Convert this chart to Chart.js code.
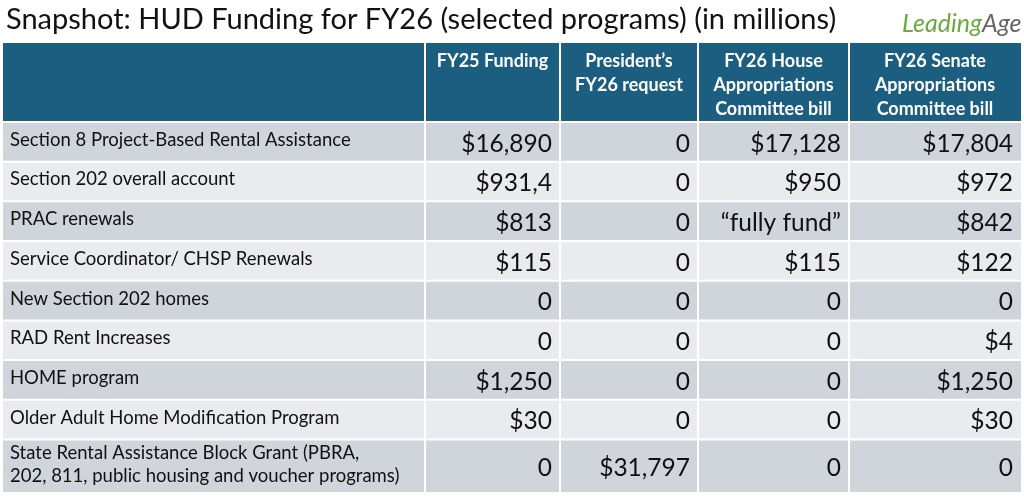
<!DOCTYPE html>
<html><head><meta charset="utf-8">
<script src="https://cdn.jsdelivr.net/npm/chart.js@4"></script>
<style>html,body{margin:0;background:#fff}#wrap{width:1024px;height:499px}</style>
</head><body><div id="wrap"><canvas id="myChart"></canvas></div>
<script>
const titleText = 'Snapshot: HUD Funding for FY26 (selected programs) (in millions)';
const headers = [
  [''],
  ['FY25 Funding'],
  ['President\u2019s', 'FY26 request'],
  ['FY26 House', 'Appropriations', 'Committee bill'],
  ['FY26 Senate', 'Appropriations', 'Committee bill'],
];
const programs = [
  ['Section 8 Project-Based Rental Assistance'],
  ['Section 202 overall account'],
  ['PRAC renewals'],
  ['Service Coordinator/ CHSP Renewals'],
  ['New Section 202 homes'],
  ['RAD Rent Increases'],
  ['HOME program'],
  ['Older Adult Home Modification Program'],
  ['State Rental Assistance Block Grant (PBRA,', '202, 811, public housing and voucher programs)'],
];
const fy25 = ['$16,890', '$931,4', '$813', '$115', '0', '0', '$1,250', '$30', '0'];
const president = ['0', '0', '0', '0', '0', '0', '0', '0', '$31,797'];
const house = ['$17,128', '$950', '\u201cfully fund\u201d', '$115', '0', '0', '0', '0', '0'];
const senate = ['$17,804', '$972', '$842', '$122', '0', '$4', '$1,250', '$30', '0'];

const colEdges = [0, 422, 557, 695, 846, 1018];
const rowEdges = [0, 1, 2, 3, 4, 5, 6, 7, 8, 9.35];

const tablePlugin = {
  id: 'table',
  beforeDraw(chart) {
    const c = chart.ctx, xs = chart.scales.x, ys = chart.scales.y, a = chart.chartArea;
    const cols = [null, fy25, president, house, senate];
    c.save();
    // title
    c.fillStyle = '#111';
    c.font = '29px Lato, "Open Sans", sans-serif';
    c.textBaseline = 'middle';
    c.fillText(titleText, 6, 20);
    // logo
    c.font = 'italic 25px Lato, sans-serif';
    c.fillStyle = '#6aab3c';
    c.fillText('Leading', 902, 24);
    const w = c.measureText('Leading').width;
    c.fillStyle = '#666';
    c.fillText('Age', 902 + w, 24);
    // header
    const hTop = 43;
    c.fillStyle = '#1b5e80';
    c.fillRect(a.left, hTop, a.right - a.left, a.top - hTop);
    c.font = 'bold 18px Lato, "Open Sans", sans-serif';
    c.fillStyle = '#fff';
    c.textAlign = 'center';
    for (let j = 1; j < headers.length; j++) {
      const cx = (xs.getPixelForValue(colEdges[j]) + xs.getPixelForValue(colEdges[j + 1])) / 2;
      headers[j].forEach((t, k) => c.fillText(t, cx, hTop + 18 + k * 24));
    }
    // rows
    for (let i = 0; i < programs.length; i++) {
      const y0 = ys.getPixelForValue(rowEdges[i]), y1 = ys.getPixelForValue(rowEdges[i + 1]);
      c.fillStyle = i % 2 === 0 ? '#d0d4db' : '#e9ebee';
      c.fillRect(a.left, y0, a.right - a.left, y1 - y0);
      const cy = (y0 + y1) / 2;
      c.fillStyle = '#111';
      c.textAlign = 'left';
      c.font = '18.5px Lato, "Open Sans", sans-serif';
      const lines = programs[i];
      lines.forEach((t, k) => c.fillText(t, xs.getPixelForValue(colEdges[0]) + 7, cy - 2 + (k - (lines.length - 1) / 2) * 23));
      c.textAlign = 'right';
      c.font = '24.5px Lato, "Open Sans", sans-serif';
      for (let j = 1; j < cols.length; j++) {
        c.fillText(cols[j][i], xs.getPixelForValue(colEdges[j + 1]) - 8, cy + 2);
      }
    }
    // grid lines
    c.strokeStyle = '#fff';
    c.lineWidth = 2;
    for (let j = 1; j < colEdges.length - 1; j++) {
      const x = xs.getPixelForValue(colEdges[j]);
      c.beginPath(); c.moveTo(x, hTop); c.lineTo(x, a.bottom); c.stroke();
    }
    for (let i = 0; i <= programs.length; i++) {
      const y = ys.getPixelForValue(rowEdges[i]);
      c.beginPath(); c.moveTo(a.left, y); c.lineTo(a.right, y); c.stroke();
    }
    c.restore();
  }
};

new Chart(document.getElementById('myChart'), {
  type: 'scatter',
  data: { datasets: [{ data: [] }] },
  options: {
    responsive: true,
    maintainAspectRatio: false,
    animation: false,
    layout: { padding: { top: 122, left: 3, right: 3, bottom: 6 } },
    plugins: { legend: { display: false }, tooltip: { enabled: false } },
    scales: {
      x: { type: 'linear', min: 0, max: colEdges[colEdges.length - 1], display: false },
      y: { type: 'linear', min: 0, max: rowEdges[rowEdges.length - 1], reverse: true, display: false },
    },
  },
  plugins: [tablePlugin],
});
</script></body></html>
